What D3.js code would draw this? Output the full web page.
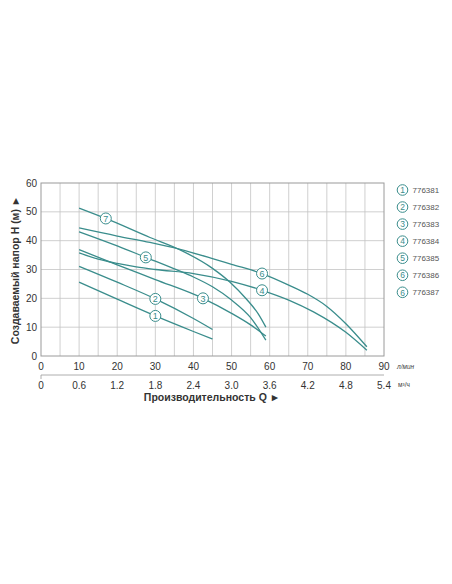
<!DOCTYPE html>
<html>
<head>
<meta charset="utf-8">
<script src="https://cdn.jsdelivr.net/npm/d3@7"></script>
<style>
  body { margin: 0; background: #fff; }
  text { font-family: "Liberation Sans", Arial, sans-serif; }
</style>
</head>
<body>
<svg id="chart" width="452" height="584"></svg>
<script>
// Pump curves: head H (m) against flow Q (l/min)
var flowTicks = [0, 10, 20, 30, 40, 50, 60, 70, 80, 90];
var flowM3h = ['0', '0.6', '1.2', '1.8', '2.4', '3.0', '3.6', '4.2', '4.8', '5.4'];
var headTicks = [0, 10, 20, 30, 40, 50, 60];

var models = ['776381', '776382', '776383', '776384', '776385', '776386', '776387'];
var legendNums = ['1', '2', '3', '4', '5', '6', '6'];
var curveNums = ['1', '2', '3', '4', '5', '6', '7'];

var curve1 = [[10, 25.6], [20, 19.7], [30, 13.9], [40, 8.5], [45, 5.9]];
var curve2 = [[10, 31.1], [20, 25.6], [30, 19.8], [40, 13], [45, 9.2]];
var curve3 = [[10, 36.9], [20, 31.6], [30, 26.5], [42.5, 20], [50, 14.8], [55, 10.8], [59, 6.9]];
var curve4 = [[10, 35.8], [15, 33.6], [20, 32.1], [25, 30.9], [30, 30], [40, 28.6], [50, 25.9], [58, 22.8], [65, 19.4], [71.5, 15.3], [80, 8.2], [85.5, 2]];
var curve5 = [[10, 43.1], [20, 38.2], [27.5, 34.2], [35, 30.2], [40, 27.4], [45, 24], [50, 19.4], [55, 13.3], [59, 5.5]];
var curve6 = [[10, 44.4], [20, 41.6], [28.6, 39.4], [36.5, 37], [45, 33.8], [50, 31.8], [58, 28.6], [65, 24.6], [70, 21.4], [75, 17.2], [80, 11.2], [85.5, 3.2]];
var curve7 = [[10, 51.3], [17, 47.7], [28.6, 41.1], [36.5, 36.8], [45, 30.4], [49.6, 25.6], [54, 19.6], [57, 14.6], [59, 10]];
var curves = [curve1, curve2, curve3, curve4, curve5, curve6, curve7];
// index of the point on each curve that carries its number badge
var labelAt = [2, 2, 3, 7, 2, 6, 1];

var teal = '#3a8d8c';
var svg = d3.select('#chart');

var x = d3.scaleLinear().domain([0, 90]).range([41, 384]);
var y = d3.scaleLinear().domain([0, 60]).range([356, 183]);

// grid
var grid = svg.append('g');
grid.selectAll('line.v').data(d3.range(5, 90, 5)).enter()
  .append('line')
  .attr('x1', function(d) { return x(d); }).attr('x2', function(d) { return x(d); })
  .attr('y1', y(0)).attr('y2', y(60))
  .attr('stroke', '#c4c4c4').attr('stroke-width', 0.8);
grid.selectAll('line.h').data(headTicks.slice(1, -1)).enter()
  .append('line')
  .attr('x1', x(0)).attr('x2', x(90))
  .attr('y1', function(d) { return y(d); }).attr('y2', function(d) { return y(d); })
  .attr('stroke', '#c4c4c4').attr('stroke-width', 0.8);
svg.append('rect')
  .attr('x', x(0)).attr('y', y(60))
  .attr('width', x(90) - x(0)).attr('height', y(0) - y(60))
  .attr('fill', 'none').attr('stroke', '#9a9a9a').attr('stroke-width', 1);

// y axis labels
svg.selectAll('text.yt').data(headTicks).enter()
  .append('text')
  .attr('x', 37).attr('y', function(d) { return y(d) + 3.5; })
  .attr('text-anchor', 'end').attr('font-size', 10).attr('fill', '#333')
  .text(function(d) { return d; });

svg.append('text')
  .attr('transform', 'translate(19,270) rotate(-90)')
  .attr('text-anchor', 'middle').attr('font-size', 10.5).attr('font-weight', 'bold').attr('fill', '#333')
  .text('Создаваемый напор H (м) ►');

// primary x labels (l/min)
svg.selectAll('text.xt').data(flowTicks).enter()
  .append('text')
  .attr('x', function(d) { return x(d); }).attr('y', 370)
  .attr('text-anchor', 'middle').attr('font-size', 10).attr('fill', '#333')
  .text(function(d) { return d; });
svg.append('text').attr('x', 397).attr('y', 369)
  .attr('font-size', 6.5).attr('font-style', 'italic').attr('fill', '#444').text('л/мин');

// secondary x axis (m3/h)
svg.append('line').attr('x1', x(0)).attr('x2', x(90)).attr('y1', 375).attr('y2', 375)
  .attr('stroke', '#999').attr('stroke-width', 0.8);
svg.append('line').attr('x1', x(0)).attr('x2', x(0)).attr('y1', 375).attr('y2', 379)
  .attr('stroke', '#999').attr('stroke-width', 0.8);
svg.selectAll('text.mt').data(flowM3h).enter()
  .append('text')
  .attr('x', function(d, i) { return x(flowTicks[i]); }).attr('y', 389)
  .attr('text-anchor', 'middle').attr('font-size', 10).attr('fill', '#333')
  .text(function(d) { return d; });
svg.append('text').attr('x', 398).attr('y', 387)
  .attr('font-size', 6.5).attr('fill', '#444').text('м³/ч');

svg.append('text').attr('x', 212).attr('y', 401)
  .attr('text-anchor', 'middle').attr('font-size', 10.5).attr('font-weight', 'bold').attr('fill', '#333')
  .text('Производительность Q ►');

// curves
var line = d3.line()
  .x(function(d) { return x(d[0]); })
  .y(function(d) { return y(d[1]); })
  .curve(d3.curveMonotoneX);

svg.append('g').selectAll('path').data(curves).enter()
  .append('path')
  .attr('d', line)
  .attr('fill', 'none').attr('stroke', teal).attr('stroke-width', 1.3);

var badges = svg.append('g').selectAll('g').data(curves).enter()
  .append('g')
  .attr('transform', function(d, i) {
    var p = d[labelAt[i]];
    return 'translate(' + x(p[0]) + ',' + y(p[1]) + ')';
  });
badges.append('circle').attr('r', 5.5)
  .attr('fill', '#fff').attr('stroke', teal).attr('stroke-width', 1);
badges.append('text').attr('y', 3.3).attr('text-anchor', 'middle')
  .attr('font-size', 9).attr('fill', teal)
  .text(function(d, i) { return curveNums[i]; });

// legend
var legend = svg.append('g').selectAll('g').data(models).enter()
  .append('g')
  .attr('transform', function(d, i) { return 'translate(402.5,' + (190 + i * 17.05) + ')'; });
legend.append('circle').attr('r', 5.3)
  .attr('fill', '#fff').attr('stroke', teal).attr('stroke-width', 1);
legend.append('text').attr('y', 3.2).attr('text-anchor', 'middle')
  .attr('font-size', 8.5).attr('fill', teal)
  .text(function(d, i) { return legendNums[i]; });
legend.append('text').attr('x', 10).attr('y', 3).attr('font-size', 8).attr('fill', '#555')
  .text(function(d) { return d; });
</script>
</body>
</html>
